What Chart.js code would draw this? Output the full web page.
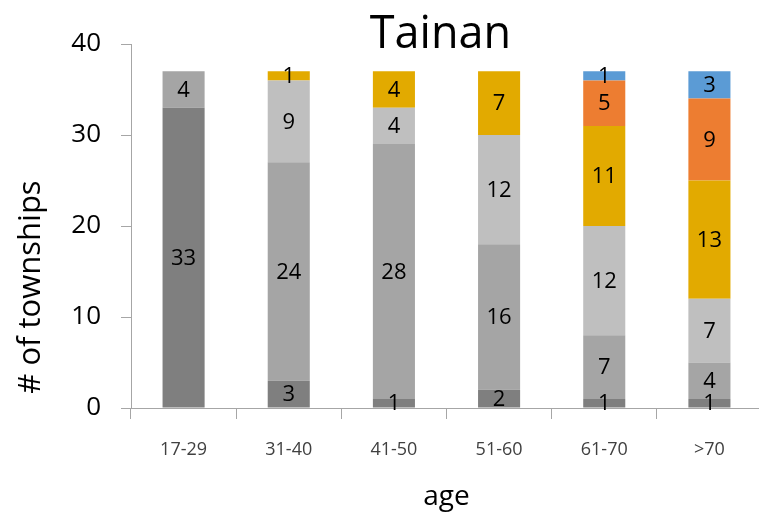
<!DOCTYPE html>
<html>
<head>
<meta charset="utf-8">
<script src="https://cdn.jsdelivr.net/npm/chart.js@4/dist/chart.umd.min.js"></script>
<style>
  html, body { margin: 0; padding: 0; background: #fff; overflow: hidden; }
  #wrap { width: 763px; height: 518px; }
</style>
</head>
<body>
<div id="wrap"><canvas id="chart" width="763" height="518"></canvas></div>
<script>
// Tainan - townships by age group (stacked)
const categories = ['17-29', '31-40', '41-50', '51-60', '61-70', '>70'];
const darkGray  = [33, 3, 1, 2, 1, 1];
const midGray   = [4, 24, 28, 16, 7, 4];
const lightGray = [0, 9, 4, 12, 12, 7];
const gold      = [0, 1, 4, 7, 11, 13];
const orange    = [0, 0, 0, 0, 5, 9];
const blue      = [0, 0, 0, 0, 1, 3];
const yTicks = [0, 10, 20, 30, 40];

const FONT = '"Open Sans", "Noto Sans", sans-serif';
const AXIS_COLOR = '#a6a6a6';

// segment value labels, centred in each bar piece
const segmentLabels = {
  id: 'segmentLabels',
  afterDatasetsDraw(chart) {
    const ctx = chart.ctx;
    ctx.save();
    ctx.font = '22px ' + FONT;
    ctx.fillStyle = '#000';
    ctx.textAlign = 'center';
    ctx.textBaseline = 'middle';
    chart.data.datasets.forEach((ds, i) => {
      const meta = chart.getDatasetMeta(i);
      meta.data.forEach((bar, j) => {
        const v = ds.data[j];
        if (!v) return;
        const p = bar.getProps(['x', 'y', 'base'], true);
        ctx.fillText(String(v), p.x, (p.y + p.base) / 2 + 1);
      });
    });
    ctx.restore();
  }
};

// chart title (centred over the plot) and y axis title
const titles = {
  id: 'titles',
  afterDraw(chart) {
    const ctx = chart.ctx;
    const area = chart.chartArea;
    ctx.save();
    ctx.fillStyle = '#000';
    ctx.textAlign = 'center';
    ctx.textBaseline = 'alphabetic';
    ctx.font = '45px ' + FONT;
    ctx.fillText('Tainan', (area.left + area.right) / 2 - 6, 48);
    ctx.textBaseline = 'middle';
    ctx.translate(31, 287);
    ctx.rotate(-Math.PI / 2);
    ctx.font = '31px ' + FONT;
    ctx.fillText('# of townships', 0, 0);
    ctx.restore();
  }
};

function series(label, data, color) {
  return {
    label,
    data,
    backgroundColor: color,
    borderWidth: 0,
    barPercentage: 0.4,
    categoryPercentage: 1.0
  };
}

new Chart(document.getElementById('chart'), {
  type: 'bar',
  data: {
    labels: categories,
    datasets: [
      series('a', darkGray, '#7f7f7f'),
      series('b', midGray, '#a5a5a5'),
      series('c', lightGray, '#bfbfbf'),
      series('d', gold, '#e2aa00'),
      series('e', orange, '#ed7d31'),
      series('f', blue, '#5b9bd5')
    ]
  },
  options: {
    responsive: false,
    animation: false,
    layout: { padding: { top: 44, right: 1, left: 0, bottom: 0 } },
    plugins: {
      legend: { display: false },
      tooltip: { enabled: false },
      title: { display: false }
    },
    scales: {
      x: {
        stacked: true,
        grid: { drawOnChartArea: false, drawTicks: true, tickLength: 11, color: AXIS_COLOR },
        border: { display: true, color: AXIS_COLOR, width: 1 },
        ticks: { color: '#404040', font: { family: FONT, size: 18 }, padding: 20 },
        title: { display: true, text: 'age', color: '#000', font: { family: FONT, size: 28 }, padding: { top: 6 } },
        afterFit(scale) { scale.height = 110; }
      },
      y: {
        stacked: true,
        min: 0,
        max: 40,
        afterBuildTicks(scale) { scale.ticks = yTicks.map(v => ({ value: v })); },
        grid: { drawOnChartArea: false, drawTicks: true, tickLength: 10, color: AXIS_COLOR },
        border: { display: true, color: AXIS_COLOR, width: 1 },
        ticks: { color: '#000', font: { family: FONT, size: 26 }, padding: 20 },
        afterFit(scale) { scale.width = 131; }
      }
    }
  },
  plugins: [segmentLabels, titles]
});
</script>
</body>
</html>
